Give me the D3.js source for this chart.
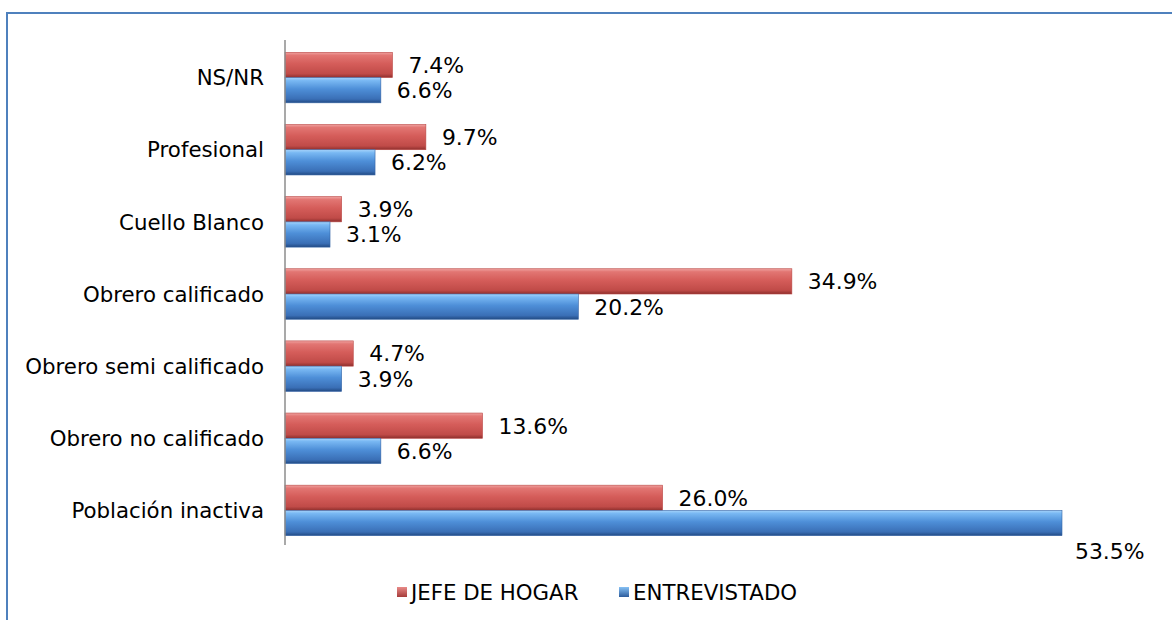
<!DOCTYPE html>
<html>
<head>
<meta charset="utf-8">
<script src="https://cdn.jsdelivr.net/npm/d3@7"></script>
<style>
  body { margin: 0; background: #fff; }
  svg { display: block; font-family: Verdana, "DejaVu Sans", sans-serif; }
</style>
</head>
<body>
<svg id="chart" width="1172" height="620"></svg>
<script>
// datos
var categories = ["NS/NR", "Profesional", "Cuello Blanco", "Obrero calificado",
                  "Obrero semi calificado", "Obrero no calificado", "Población inactiva"];
var jefeValues = [7.4, 9.7, 3.9, 34.9, 4.7, 13.6, 26.0];
var entrevistadoValues = [6.6, 6.2, 3.1, 20.2, 3.9, 6.6, 53.5];
var seriesNames = ["JEFE DE HOGAR", "ENTREVISTADO"];

var svg = d3.select("#chart");
var W = 1172, H = 620;
var plot = { left: 285, right: 1100, top: 40, bottom: 545 };
var FONT = 21.3;

// marco exterior
svg.append("rect")
   .attr("x", 7).attr("y", 13)
   .attr("width", W + 20).attr("height", H + 20)
   .attr("fill", "none")
   .attr("stroke", "#4f81bd")
   .attr("stroke-width", 2);

// degradados para el efecto brillante
var defs = svg.append("defs");
function addGrad(id, stops) {
    var g = defs.append("linearGradient").attr("id", id)
        .attr("x1", 0).attr("y1", 0).attr("x2", 0).attr("y2", 1);
    stops.forEach(function(s){
        g.append("stop").attr("offset", s[0]).attr("stop-color", s[1]);
    });
}
addGrad("gRed", [[0, "#f0a3a1"], [0.12, "#e27673"], [0.45, "#d55d5a"], [0.85, "#c04b48"], [1, "#8e2f2d"]]);
addGrad("gBlue", [[0, "#a6d4fb"], [0.12, "#79b8f3"], [0.45, "#4e8fd8"], [0.85, "#3a6fb6"], [1, "#224a83"]]);
addGrad("gRedL", [[0, "#e88a88"], [1, "#a63c3a"]]);
addGrad("gBlueL", [[0, "#86c1f5"], [1, "#2d5c9c"]]);

var x = d3.scaleLinear().domain([0, 53.5]).range([plot.left, 1062]);
var y = d3.scaleBand().domain(categories).range([plot.top + 1.5, plot.bottom + 1.5])
          .paddingInner(0.3).paddingOuter(0.15);
var ySub = d3.scaleBand().domain([0, 1]).range([0, y.bandwidth()]);

var series = [
    { name: seriesNames[0], values: jefeValues, fill: "url(#gRed)", edge: "#b94744" },
    { name: seriesNames[1], values: entrevistadoValues, fill: "url(#gBlue)", edge: "#3564a6" }
];

// barras
series.forEach(function(s, si){
    var g = svg.append("g");
    g.selectAll("rect").data(categories).enter().append("rect")
        .attr("x", x(0))
        .attr("y", function(d){ return y(d) + ySub(si); })
        .attr("width", function(d, i){ return x(s.values[i]) - x(0); })
        .attr("height", ySub.bandwidth())
        .attr("fill", s.fill)
        .attr("stroke", s.edge)
        .attr("stroke-width", 0.6);

    // etiquetas de valores (si no caben a la derecha se bajan)
    g.selectAll("text").data(categories).enter().append("text")
        .attr("x", function(d, i){
            var xe = x(s.values[i]) + 16;
            return xe + 60 > plot.right ? x(s.values[i]) + 13 : xe;
        })
        .attr("y", function(d, i){
            var yc = y(d) + ySub(si) + ySub.bandwidth() / 2;
            return x(s.values[i]) + 76 > plot.right ? yc + 28 : yc;
        })
        .attr("dy", "0.36em")
        .attr("font-size", FONT + 0.6)
        .attr("fill", "#000")
        .text(function(d, i){ return s.values[i].toFixed(1) + "%"; });
});

// eje vertical
svg.append("line")
   .attr("x1", x(0)).attr("x2", x(0))
   .attr("y1", plot.top).attr("y2", plot.bottom)
   .attr("stroke", "#8c8c8c").attr("stroke-width", 1.5);

// etiquetas de categorias
svg.append("g").selectAll("text").data(categories).enter().append("text")
   .attr("x", x(0) - 21)
   .attr("y", function(d){ return y(d) + y.bandwidth() / 2; })
   .attr("dy", "0.36em")
   .attr("text-anchor", "end")
   .attr("font-size", FONT)
   .attr("fill", "#000")
   .text(function(d){ return d; });

// leyenda
var legendX = [397, 619];
var legend = svg.append("g").selectAll("g").data(series).enter().append("g")
    .attr("transform", function(d, i){ return "translate(" + legendX[i] + ",592)"; });
legend.append("rect")
    .attr("x", 0).attr("y", -5).attr("width", 10).attr("height", 10)
    .attr("fill", function(d, i){ return i == 0 ? "url(#gRedL)" : "url(#gBlueL)"; });
legend.append("text")
    .attr("x", 14).attr("dy", "0.36em")
    .attr("font-size", FONT)
    .attr("fill", "#000")
    .text(function(d){ return d.name; });
</script>
</body>
</html>
